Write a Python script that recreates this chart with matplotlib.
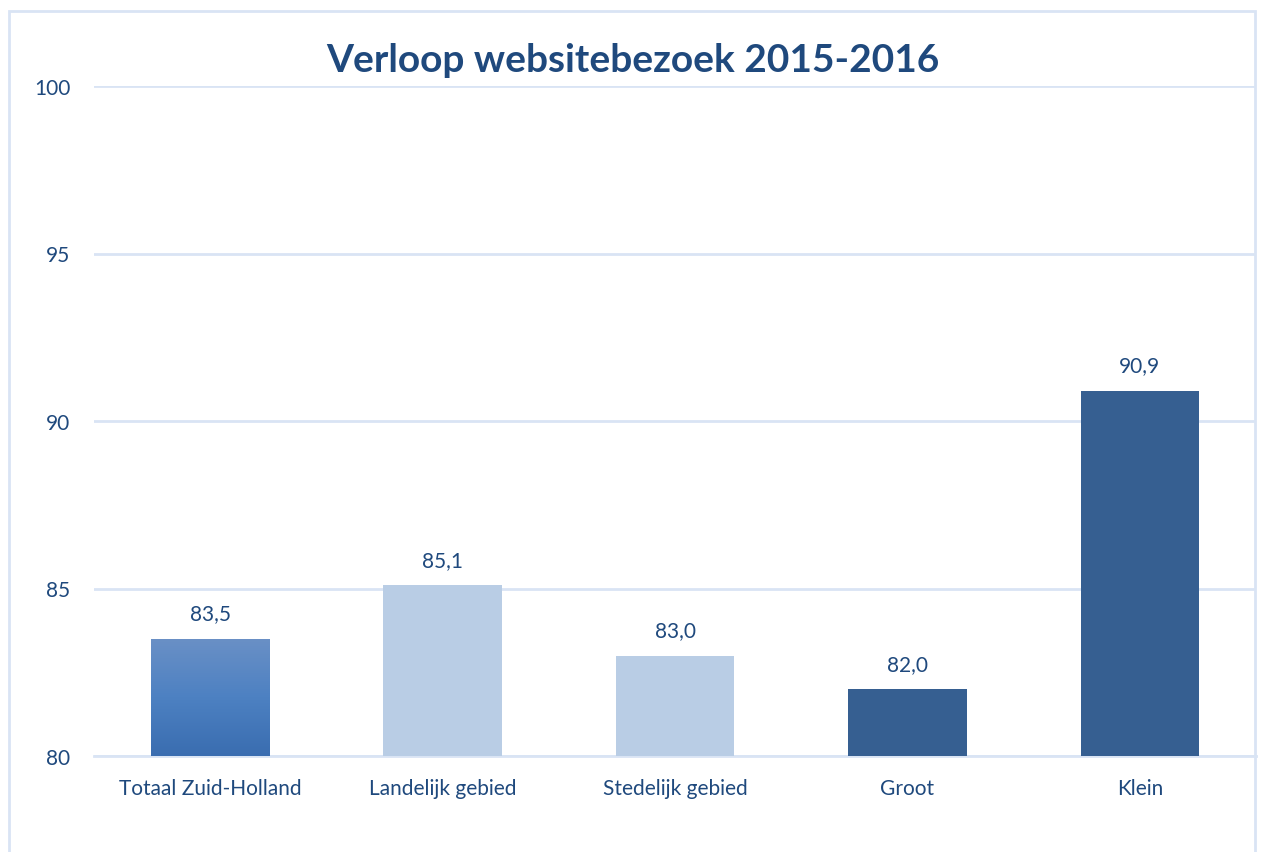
"""
Bar chart: Verloop websitebezoek 2015-2016.
"""

import matplotlib.pyplot as plt
import numpy as np
from matplotlib.colors import LinearSegmentedColormap
from matplotlib.patches import Rectangle

# ---------------------------------------------------------------------------
# Data
# ---------------------------------------------------------------------------
categories = ["Totaal Zuid-Holland", "Landelijk gebied", "Stedelijk gebied", "Groot", "Klein"]
values = [83.5, 85.1, 83.0, 82.0, 90.9]
y_ticks = [80, 85, 90, 95, 100]

# ---------------------------------------------------------------------------
# Style
# ---------------------------------------------------------------------------
TEXT_COLOR = "#1f497d"
GRID_COLOR = "#d9e4f4"
bar_colors = ["#4f81bd", "#b9cde5", "#b9cde5", "#365f91", "#365f91"]
plt.rcParams["font.family"] = ["Lato", "DejaVu Sans"]

fig = plt.figure(figsize=(12.61, 8.53), dpi=100)
ax = fig.add_axes([94 / 1261, 1 - 757 / 853, 1162 / 1261, 670 / 853])

x = np.arange(len(categories))
bars = ax.bar(x, values, width=0.51, bottom=0, color=bar_colors, zorder=3)

# gradient fill for the first bar
grad_cmap = LinearSegmentedColormap.from_list("grad", ["#3a6db0", "#4d81c2", "#6a90c6"])
first = bars[0]
bx, bw, bh = first.get_x(), first.get_width(), first.get_height()
first.set_facecolor("none")
grad = np.linspace(0, 1, 256).reshape(-1, 1)
im = ax.imshow(grad, cmap=grad_cmap, origin="lower", aspect="auto",
               extent=(bx, bx + bw, 80, bh), zorder=3)
im.set_clip_path(Rectangle((bx, 0), bw, bh, transform=ax.transData))

# value labels
for xi, v in zip(x, values):
    ax.annotate(f"{v:.1f}".replace(".", ","), (xi, v), xytext=(0, 11),
                textcoords="offset points", ha="center", va="bottom",
                fontsize=15, color=TEXT_COLOR)

ax.set_xlim(-0.5, len(categories) - 0.5)
ax.set_ylim(80, 100)
ax.set_yticks(y_ticks)
ax.set_xticks(x)
ax.set_xticklabels(categories)
ax.tick_params(axis="both", length=0, labelsize=15, labelcolor=TEXT_COLOR)
ax.tick_params(axis="x", pad=16)
ax.tick_params(axis="y", pad=17)
ax.yaxis.grid(True, color=GRID_COLOR, linewidth=2, zorder=0)
ax.set_axisbelow(True)
for side in ["top", "right", "left"]:
    ax.spines[side].set_visible(False)
ax.spines["bottom"].set_color(GRID_COLOR)
ax.spines["bottom"].set_linewidth(2)

fig.text(633 / 1261, 1 - 60 / 853, "Verloop websitebezoek 2015-2016",
         ha="center", va="center", fontsize=28, fontweight="bold", color=TEXT_COLOR)

# chart frame
fig.add_artist(Rectangle((9 / 1261, -0.05), 1246 / 1261, 1.05 - 12 / 853,
                         transform=fig.transFigure, fill=False,
                         edgecolor=GRID_COLOR, linewidth=2))

fig.savefig("out.png", dpi=100)
